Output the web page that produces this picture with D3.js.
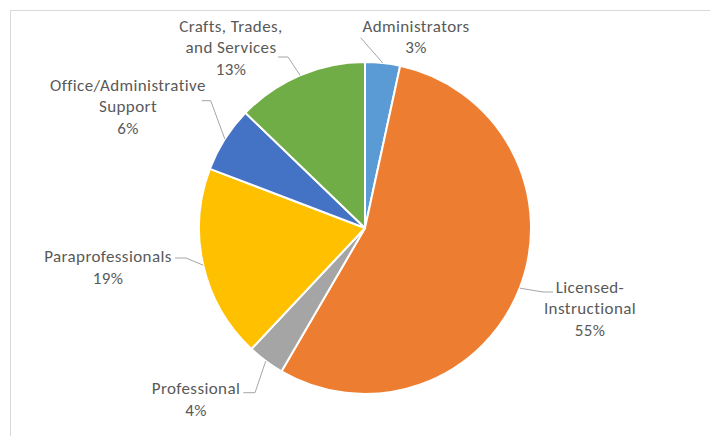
<!DOCTYPE html>
<html>
<head>
<meta charset="utf-8">
<script src="https://cdn.jsdelivr.net/npm/d3@7"></script>
<style>
  body { margin: 0; background: #fff; }
  svg { display: block; }
</style>
</head>
<body>
<script>
// data
const categories = ["Administrators", "Licensed-Instructional", "Professional", "Paraprofessionals", "Office/Administrative Support", "Crafts, Trades, and Services"];
const values = [3.4, 55.0, 3.6, 18.8, 6.4, 12.8];
const labelLines = [
  ["Administrators", "3%"],
  ["Licensed-", "Instructional", "55%"],
  ["Professional", "4%"],
  ["Paraprofessionals", "19%"],
  ["Office/Administrative", "Support", "6%"],
  ["Crafts, Trades,", "and Services", "13%"]
];
const colors = ["#5B9BD5", "#ED7D31", "#A5A5A5", "#FFC000", "#4472C4", "#70AD47"];

// layout of labels (text centre x, first baseline y) and leader start / elbow
const labelX = [416, 590, 196, 108, 128, 231];
const labelY = [31.7, 292.7, 394, 262, 90.7, 31.7];
const leaderStart = [[360.7, 37.7], [553, 292], [243.3, 392.7], [175, 258], [201.7, 100.7], [278, 57]];
const leaderElbow = [null, [543, 292], [255, 392.7], [186, 258], [210.7, 100.7], [288, 57]];

const W = 710, H = 436;
const cx = 365, cy = 228, R = 166;
const lineH = 21.7;

const svg = d3.select("body").append("svg").attr("width", W).attr("height", H);

// chart border
svg.append("rect").attr("x", 10.5).attr("y", 10.5).attr("width", 900).attr("height", 900)
  .attr("fill", "none").attr("stroke", "#D9D9D9").attr("stroke-width", 1);

const pie = d3.pie().sort(null).value(d => d);
const arcs = pie(values);
const arc = d3.arc().innerRadius(0).outerRadius(R);

const g = svg.append("g").attr("transform", `translate(${cx},${cy})`);

g.selectAll("path").data(arcs).enter().append("path")
  .attr("d", arc)
  .attr("fill", (d, i) => colors[i])
  .attr("stroke", "#fff")
  .attr("stroke-width", 2)
  .attr("stroke-linejoin", "round");

// leader lines to the middle of each slice's outer edge
const line = d3.line();
arcs.forEach((d, i) => {
  const a = (d.startAngle + d.endAngle) / 2;
  const edge = [cx + R * Math.sin(a), cy - R * Math.cos(a)];
  const pts = [leaderStart[i]];
  if (leaderElbow[i]) pts.push(leaderElbow[i]);
  pts.push(edge);
  svg.append("path").attr("d", line(pts))
    .attr("fill", "none").attr("stroke", "#A6A6A6").attr("stroke-width", 1);
});

// labels
labelLines.forEach((lines, i) => {
  const t = svg.append("text")
    .attr("text-anchor", "middle")
    .attr("font-family", "Carlito, Calibri, Lato, sans-serif")
    .attr("font-size", 17)
    .attr("letter-spacing", 0.4)
    .attr("fill", "#595959");
  lines.forEach((s, j) => {
    t.append("tspan").attr("x", labelX[i]).attr("y", labelY[i] + j * lineH).text(s);
  });
});
</script>
</body>
</html>
